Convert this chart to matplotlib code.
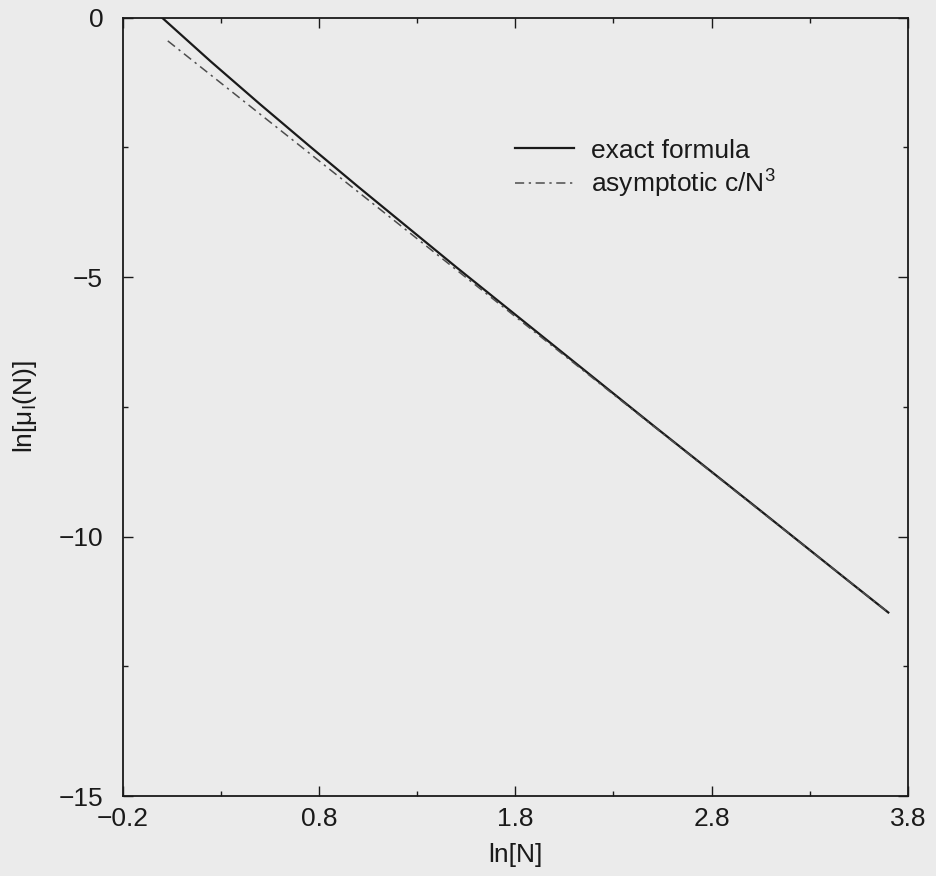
#! /usr/bin/env python3
# -*- coding: utf-8 -*-
import matplotlib
matplotlib.use('Agg')
import matplotlib.pyplot as plt

# values
ln_N_exact = [0.0, 0.25, 0.5, 0.75, 1.0, 1.5, 2.0, 2.5, 3.0, 3.5, 3.7]
ln_mu_exact = [0.0, -0.85, -1.67, -2.47, -3.26, -4.81, -6.33, -7.85, -9.35, -10.86, -11.46]

ln_N_asym = [0.03, 1.0, 2.0, 3.0, 3.7]
ln_mu_asym = [-0.45, -3.36, -6.36, -9.36, -11.46]

x_ticks = [-0.2, 0.8, 1.8, 2.8, 3.8]
y_ticks = [-15, -10, -5, 0]

plt.rcParams['font.family'] = ['Liberation Sans', 'DejaVu Sans']
plt.rcParams['mathtext.fontset'] = 'custom'
plt.rcParams['mathtext.rm'] = 'Liberation Sans'
plt.rcParams['mathtext.it'] = 'Liberation Sans'

paper = '#ebebeb'
ink = '#1a1a1a'

fig = plt.figure(figsize=(9.36, 8.76), dpi=100, facecolor=paper)
ax = fig.add_axes([0.131, 0.091, 0.839, 0.889], facecolor=paper)

ax.plot(ln_N_exact, ln_mu_exact, color=ink, lw=1.6, label='exact formula')
ax.plot(ln_N_asym, ln_mu_asym, color='0.3', lw=1.1,
        ls=(0, (6, 3, 1.5, 3)), label='asymptotic c/N$^3$')

ax.set_xlim(-0.2, 3.8)
ax.set_ylim(-15, 0)
ax.set_xticks(x_ticks)
ax.set_xticklabels([f"{t:.1f}".replace('-', '\u2212') for t in x_ticks])
ax.set_yticks(y_ticks)
ax.set_yticklabels([str(t).replace('-', '\u2212') for t in y_ticks])
ax.set_xticks([0.3, 1.3, 2.3, 3.3], minor=True)
ax.set_yticks([-12.5, -7.5, -2.5], minor=True)

ax.tick_params(which='both', direction='in', top=True, right=True,
               labelsize=19, colors=ink, width=1.0)
ax.tick_params(which='major', length=7)
ax.tick_params(axis='x', which='major', pad=8)
ax.tick_params(axis='y', which='major', pad=14)
ax.tick_params(which='minor', length=3.5)
for s in ax.spines.values():
    s.set_linewidth(1.3)
    s.set_color(ink)

ax.set_xlabel('ln[N]', fontsize=19, color=ink, labelpad=8)
ax.set_ylabel(r'ln[$\mu_{\mathrm{I}}$(N)]', fontsize=19, color=ink, labelpad=14)

ax.legend(loc='upper left', bbox_to_anchor=(0.47, 0.875), frameon=False,
          fontsize=19, handlelength=2.2, handletextpad=0.65,
          labelspacing=0.2, labelcolor=ink)

fig.savefig('out.png', dpi=100, facecolor=paper)
